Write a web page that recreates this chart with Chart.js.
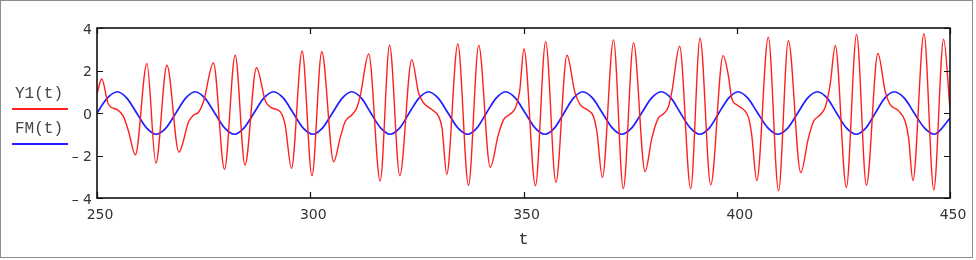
<!DOCTYPE html>
<html>
<head>
<meta charset="utf-8">
<script src="https://cdn.jsdelivr.net/npm/chart.js@4.4.1/dist/chart.umd.min.js"></script>
<style>
    html, body { margin: 0; padding: 0; background: #fff; }
    #wrap { position: relative; width: 976px; height: 260px; }
</style>
</head>
<body>
<div id="wrap"><canvas id="plot"></canvas></div>
<script>
    // values
    var xTicks = [250, 300, 350, 400, 450];
    var yTicks = [-4, -2, 0, 2, 4];
    var seriesNames = ['Y1(t)', 'FM(t)'];
    var seriesColors = ['#ff1f1f', '#2020ff'];

    var y1Times = [
        250.0, 251.1, 252.7, 254.7, 256.2, 257.4, 259.0, 261.7, 263.8, 266.4,
        269.2, 271.5, 272.6, 273.9, 275.0, 277.3, 279.9, 282.4, 284.7, 287.4,
        289.5, 291.0, 293.0, 294.1, 295.6, 298.1, 300.4, 302.7, 305.5, 307.0,
        308.2, 309.8, 310.9, 311.7, 313.7, 316.4, 318.6, 321.0, 323.8, 325.4,
        326.6, 328.5, 330.1, 330.9, 332.0, 334.6, 337.1, 339.5, 342.2, 344.1,
        345.3, 346.9, 348.1, 349.1, 350.1, 352.8, 355.2, 357.6, 360.2, 362.0,
        363.3, 364.9, 366.4, 367.2, 368.5, 371.1, 373.4, 375.8, 378.5, 380.1,
        381.6, 382.8, 384.0, 384.8, 386.6, 389.2, 391.4, 393.9, 396.8, 398.0,
        398.8, 400.0, 401.6, 402.8, 403.5, 404.7, 407.4, 409.8, 412.1, 415.0,
        416.8, 418.0, 419.6, 420.8, 421.9, 423.1, 425.7, 428.1, 430.4, 433.1,
        434.8, 436.0, 437.9, 439.5, 440.3, 441.3, 443.9, 446.2, 448.5, 450.0
    ];
    var y1Values = [
        0.9, 1.6, 0.4, 0.16, -0.16, -0.87, -1.97, 2.33, -2.36, 2.25,
        -1.84, -0.4, -0.11, 0.06, 0.55, 2.35, -2.65, 2.72, -2.45, 2.13,
        0.55, 0.24, 0.05, -0.55, -2.6, 2.92, -2.95, 2.88, -2.3, -1.18,
        -0.4, -0.08, 0.24, 0.78, 2.78, -3.2, 3.19, -2.95, 2.51, 0.94,
        0.47, 0.16, -0.16, -0.71, -2.88, 3.25, -3.4, 3.18, -2.55, -1.02,
        -0.32, -0.05, 0.24, 1.02, 3.01, -3.42, 3.36, -3.26, 2.72, 1.02,
        0.39, 0.16, -0.16, -0.87, -3.03, 3.44, -3.56, 3.3, -2.75, -1.18,
        -0.24, -0.05, 0.31, 1.02, 3.14, -3.56, 3.52, -3.38, 2.7, 1.8,
        0.71, 0.39, 0.16, -0.24, -1.02, -3.18, 3.57, -3.66, 3.4, -2.8,
        -1.18, -0.4, -0.08, 0.31, 1.33, 3.18, -3.5, 3.7, -3.4, 2.8,
        1.02, 0.39, 0.11, -0.4, -1.18, -3.18, 3.73, -3.62, 3.47, 0.2
    ];

    var fmTimes = [
        250.0, 252.4, 254.8, 257.0, 259.3, 261.6, 263.9, 266.2, 268.5, 270.8,
        273.0, 275.3, 277.6, 279.9, 282.2, 284.5, 286.8, 289.1, 291.4, 293.7,
        296.0, 298.3, 300.6, 302.9, 305.2, 307.5, 309.7, 312.0, 314.2, 316.5,
        318.7, 321.0, 323.2, 325.5, 327.7, 330.0, 332.3, 334.6, 336.9, 339.1,
        341.3, 343.6, 345.8, 348.1, 350.4, 352.7, 355.0, 357.3, 359.5, 361.7,
        363.9, 366.2, 368.5, 370.8, 373.0, 375.4, 377.7, 380.0, 382.3, 384.6,
        386.8, 389.1, 391.3, 393.6, 395.8, 398.1, 400.3, 402.6, 404.9, 407.3,
        409.6, 412.0, 414.3, 416.6, 418.9, 421.2, 423.4, 425.7, 428.0, 430.3,
        432.5, 434.7, 436.9, 439.3, 441.6, 444.0, 446.3, 450.0
    ];
    var fmValues = [
        0, 0.7, 1, 0.7, 0, -0.7, -1, -0.7, 0, 0.7,
        1, 0.7, 0, -0.7, -1, -0.7, 0, 0.7, 1, 0.7,
        0, -0.7, -1, -0.7, 0, 0.7, 1, 0.7, 0, -0.7,
        -1, -0.7, 0, 0.7, 1, 0.7, 0, -0.7, -1, -0.7,
        0, 0.7, 1, 0.7, 0, -0.7, -1, -0.7, 0, 0.7,
        1, 0.7, 0, -0.7, -1, -0.7, 0, 0.7, 1, 0.7,
        0, -0.7, -1, -0.7, 0, 0.7, 1, 0.7, 0, -0.7,
        -1, -0.7, 0, 0.7, 1, 0.7, 0, -0.7, -1, -0.7,
        0, 0.7, 1, 0.7, 0, -0.7, -1, -0.25
    ];

    function toPoints(times, values) {
        var pts = [];
        for (var i = 0; i < times.length; i++) {
            pts.push({ x: times[i], y: values[i] });
        }
        return pts;
    }

    function formatY(value) {
        if (value < 0) return '\u2013 ' + Math.abs(value);
        return String(value);
    }

    // box, inward tick marks, outer border and the left legend
    var framePlugin = {
        id: 'frame',
        afterDatasetsDraw: function (chart) {
            var ctx = chart.ctx;
            var a = chart.chartArea;
            var xs = chart.scales.x;
            var ys = chart.scales.y;
            ctx.save();
            ctx.strokeStyle = '#111';
            ctx.lineWidth = 1.6;
            ctx.strokeRect(a.left, a.top, a.right - a.left, a.bottom - a.top);

            ctx.lineWidth = 1.2;
            ctx.beginPath();
            xs.ticks.forEach(function (t) {
                var px = Math.round(xs.getPixelForValue(t.value)) + 0.5;
                ctx.moveTo(px, a.bottom);
                ctx.lineTo(px, a.bottom - 6);
                ctx.moveTo(px, a.top);
                ctx.lineTo(px, a.top + 6);
            });
            ys.ticks.forEach(function (t) {
                var py = Math.round(ys.getPixelForValue(t.value)) + 0.5;
                ctx.moveTo(a.left, py);
                ctx.lineTo(a.left + 6, py);
                ctx.moveTo(a.right, py);
                ctx.lineTo(a.right - 6, py);
            });
            ctx.stroke();
            ctx.restore();
        },
        afterDraw: function (chart) {
            var ctx = chart.ctx;
            ctx.save();
            ctx.strokeStyle = '#8c8c8c';
            ctx.lineWidth = 1;
            ctx.strokeRect(0.5, 0.5, 972, 257);

            ctx.font = '16px "Liberation Mono"';
            ctx.textBaseline = 'middle';
            ctx.textAlign = 'left';
            chart.data.datasets.forEach(function (ds, i) {
                var ty = 94 + i * 35;
                ctx.fillStyle = '#444';
                ctx.fillText(ds.label, 15, ty);
                ctx.strokeStyle = ds.borderColor;
                ctx.lineWidth = 1.8;
                ctx.beginPath();
                ctx.moveTo(12, ty + 15);
                ctx.lineTo(68, ty + 15);
                ctx.stroke();
            });
            ctx.restore();
        }
    };

    var ctx = document.getElementById('plot').getContext('2d');
    var chart = new Chart(ctx, {
        type: 'line',
        data: {
            datasets: [
                {
                    label: seriesNames[0],
                    data: toPoints(y1Times, y1Values),
                    borderColor: seriesColors[0],
                    borderWidth: 1.4,
                    pointRadius: 0,
                    fill: false,
                    cubicInterpolationMode: 'monotone'
                },
                {
                    label: seriesNames[1],
                    data: toPoints(fmTimes, fmValues),
                    borderColor: seriesColors[1],
                    borderWidth: 1.7,
                    pointRadius: 0,
                    fill: false,
                    cubicInterpolationMode: 'monotone'
                }
            ]
        },
        options: {
            responsive: true,
            maintainAspectRatio: false,
            animation: false,
            layout: { padding: { left: 0, right: 26, top: 28, bottom: 0 } },
            plugins: {
                legend: { display: false },
                tooltip: { enabled: false }
            },
            scales: {
                x: {
                    type: 'linear',
                    min: xTicks[0],
                    max: xTicks[xTicks.length - 1],
                    grid: { display: false, drawTicks: false },
                    border: { display: false },
                    afterBuildTicks: function (scale) {
                        scale.ticks = xTicks.map(function (v) { return { value: v }; });
                    },
                    afterFit: function (scale) { scale.height = 62; },
                    ticks: {
                        autoSkip: false,
                        maxRotation: 0,
                        padding: 9,
                        labelOffset: 3,
                        color: '#333',
                        font: { family: 'DejaVu Sans', size: 14 }
                    },
                    title: {
                        display: true,
                        text: 't',
                        color: '#333',
                        font: { family: 'Liberation Mono', size: 17 },
                        padding: { top: 0, bottom: 10 }
                    }
                },
                y: {
                    min: yTicks[0],
                    max: yTicks[yTicks.length - 1],
                    grid: { display: false, drawTicks: false },
                    border: { display: false },
                    afterBuildTicks: function (scale) {
                        scale.ticks = yTicks.map(function (v) { return { value: v }; });
                    },
                    afterFit: function (scale) { scale.width = 97; },
                    ticks: {
                        padding: 5,
                        labelOffset: 2,
                        color: '#333',
                        font: { family: 'DejaVu Sans', size: 14 },
                        callback: function (value) { return formatY(value); }
                    }
                }
            }
        },
        plugins: [framePlugin]
    });
</script>
</body>
</html>
